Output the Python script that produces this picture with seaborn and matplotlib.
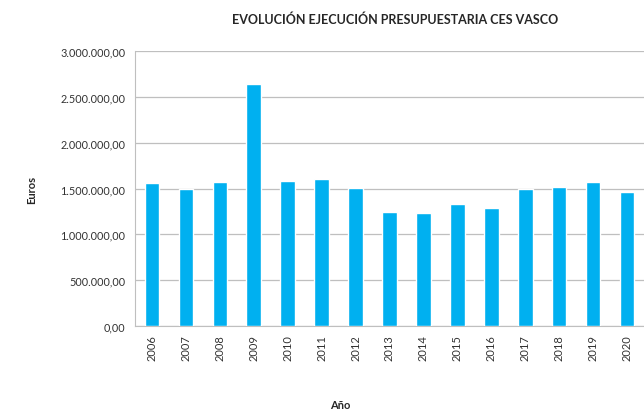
import pandas as pd
import seaborn as sns
import matplotlib.pyplot as plt
from matplotlib.ticker import FuncFormatter, FixedLocator

years = ["2006", "2007", "2008", "2009", "2010", "2011", "2012", "2013",
         "2014", "2015", "2016", "2017", "2018", "2019", "2020"]
euros = [1555000, 1490000, 1570000, 2640000, 1580000, 1605000, 1507000, 1243000,
         1232000, 1335000, 1283000, 1490000, 1520000, 1570000, 1462000]

df = pd.DataFrame({"Año": years, "Euros": euros})

sns.set_style("white")
plt.rcParams["font.family"] = ["Lato", "DejaVu Sans"]

fig = plt.figure(figsize=(6.44, 4.14), dpi=100)
ax = fig.add_axes([135 / 644, 1 - 327 / 414, 509 / 644, 275 / 414])

sns.barplot(data=df, x="Año", y="Euros", color="#00B0F0", width=0.43,
            saturation=1, ax=ax, zorder=3)

ax.set_ylim(0, 3000000)
ax.set_yticks(range(0, 3000001, 500000))
ax.set_xlim(-0.5, len(years) - 0.5)


def euro_fmt(v, pos):
    s = f"{v:,.2f}"
    return s.replace(",", "X").replace(".", ",").replace("X", ".")


ax.yaxis.set_major_formatter(FuncFormatter(euro_fmt))
ax.xaxis.set_minor_locator(FixedLocator([i + 0.5 for i in range(len(years))]))
ax.grid(axis="y", color="#BFBFBF", linewidth=0.9, zorder=0)
for s in ["top", "right"]:
    ax.spines[s].set_visible(False)
ax.spines["left"].set_color("#BFBFBF")
ax.spines["bottom"].set_color("#BFBFBF")
ax.tick_params(axis="y", length=4, color="#BFBFBF", labelsize=7.8, labelcolor="#333333", pad=3)
ax.tick_params(axis="x", which="major", length=0, labelsize=8, labelcolor="#333333",
               rotation=90, pad=6)
ax.tick_params(axis="x", which="minor", length=4, color="#BFBFBF", direction="out")

ax.set_xlabel("")
ax.set_ylabel("")
fig.text(395 / 644, 1 - 20 / 414, "EVOLUCIÓN EJECUCIÓN PRESUPUESTARIA CES VASCO",
         ha="center", va="center", fontsize=9, fontweight="bold", color="#262626")
fig.text(32 / 644, 1 - 190 / 414, "Euros", rotation=90, ha="center", va="center",
         fontsize=8, fontweight="bold", color="#262626")
fig.text(340 / 644, 1 - 406 / 414, "Año", ha="center", va="center",
         fontsize=8, fontweight="bold", color="#262626")

plt.savefig("out.png", dpi=100)
